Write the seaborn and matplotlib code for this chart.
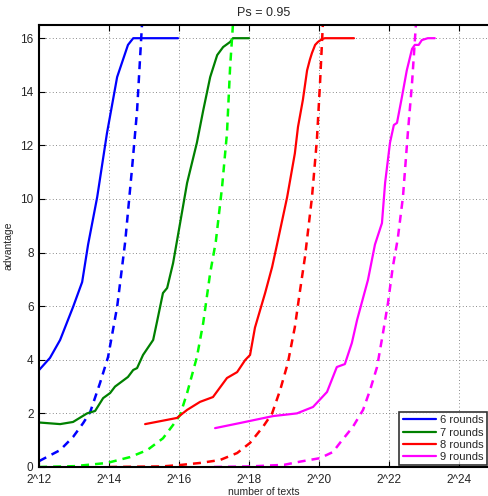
import numpy as np
import pandas as pd
import matplotlib
matplotlib.use("Agg")
import matplotlib.pyplot as plt
import seaborn as sns

# x values are log2(number of texts)
r6_x = [12.0, 12.31, 12.6, 12.97, 13.23, 13.4, 13.66, 13.94, 14.23, 14.54, 14.69, 15.97]
r6_y = [3.62, 4.07, 4.74, 5.97, 6.9, 8.3, 10.07, 12.46, 14.55, 15.75, 16.0, 16.0]
r6d_x = [12.0, 12.6, 12.97, 13.26, 13.46, 13.74, 13.97, 14.23, 14.46, 14.66, 14.8, 14.94]
r6d_y = [0.22, 0.63, 1.12, 1.64, 2.05, 3.13, 4.1, 5.97, 8.4, 11.2, 13.3, 16.5]

r7_x = [12.0, 12.6, 12.97, 13.37, 13.6, 13.83, 14.03, 14.17, 14.54, 14.69, 14.8, 14.97,
        15.26, 15.37, 15.54, 15.66, 15.83, 16.03, 16.23, 16.51, 16.69, 16.89, 17.09,
        17.26, 17.46, 17.54, 18.0]
r7_y = [1.66, 1.6, 1.68, 2.0, 2.09, 2.57, 2.76, 3.0, 3.36, 3.62, 3.69, 4.18,
        4.74, 5.42, 6.49, 6.68, 7.61, 9.1, 10.6, 12.1, 13.3, 14.55, 15.37,
        15.67, 15.86, 16.0, 16.0]
r7d_x = [12.0, 13.0, 13.94, 14.6, 15.09, 15.54, 15.83, 16.03, 16.23, 16.51, 16.69,
         16.89, 17.05, 17.23, 17.37, 17.46, 17.54]
r7d_y = [0.0, 0.03, 0.15, 0.37, 0.63, 1.07, 1.57, 1.94, 2.76, 4.1, 5.37,
         7.24, 8.4, 10.45, 12.46, 14.93, 16.5]

r8_x = [15.03, 15.94, 16.23, 16.6, 16.97, 17.37, 17.66, 17.89, 18.03, 18.17, 18.46,
        18.66, 18.8, 19.09, 19.31, 19.4, 19.54, 19.66, 19.74, 19.8, 19.89, 19.97,
        20.09, 20.17, 21.0]
r8_y = [1.6, 1.83, 2.13, 2.43, 2.61, 3.32, 3.54, 3.99, 4.18, 5.2, 6.49,
        7.46, 8.3, 10.07, 11.7, 12.69, 13.7, 14.8, 15.2, 15.45, 15.75, 15.86,
        15.97, 16.0, 16.0]
r8d_x = [14.0, 15.5, 16.0, 16.6, 17.17, 17.66, 18.03, 18.4, 18.66, 18.89, 19.11,
         19.31, 19.46, 19.6, 19.8, 19.94, 20.03, 20.11]
r8d_y = [0.0, 0.02, 0.07, 0.15, 0.26, 0.52, 0.9, 1.5, 2.0, 2.87, 3.88,
         5.22, 6.6, 7.84, 10.07, 12.2, 14.33, 16.5]

r9_x = [17.03, 17.74, 18.69, 19.37, 19.83, 20.23, 20.51, 20.74, 20.94, 21.09, 21.4,
        21.6, 21.8, 21.89, 22.03, 22.14, 22.23, 22.37, 22.51, 22.66, 22.74, 22.85,
        22.94, 23.11, 23.31]
r9_y = [1.45, 1.64, 1.9, 2.0, 2.24, 2.8, 3.73, 3.84, 4.63, 5.49, 6.98,
        8.3, 9.1, 10.6, 12.1, 12.76, 12.84, 13.8, 14.8, 15.6, 15.75, 15.75,
        15.93, 16.0, 16.0]
r9d_x = [17.0, 18.0, 19.0, 19.46, 20.03, 20.4, 20.6, 20.97, 21.26, 21.46, 21.66,
         21.83, 21.97, 22.11, 22.25, 22.4, 22.54, 22.66, 22.77]
r9d_y = [0.0, 0.02, 0.08, 0.2, 0.33, 0.56, 0.9, 1.5, 2.13, 2.87, 3.73,
         5.0, 6.1, 7.46, 8.5, 10.07, 12.46, 14.33, 16.5]

labels = ["6 rounds", "7 rounds", "8 rounds", "9 rounds"]
solid_colors = ["#0000ff", "#008000", "#ff0000", "#ff00ff"]
dash_colors = ["#0000ff", "#00ff00", "#ff0000", "#ff00ff"]

solid = [(r6_x, r6_y), (r7_x, r7_y), (r8_x, r8_y), (r9_x, r9_y)]
dashed = [(r6d_x, r6d_y), (r7d_x, r7d_y), (r8d_x, r8d_y), (r9d_x, r9d_y)]

sns.set_style("white")
plt.rcParams['font.family'] = ['Liberation Sans', 'DejaVu Sans']

fig = plt.figure(figsize=(4.89, 4.96), dpi=100)
ax = fig.add_axes([0.08, 0.0585, 0.92, 0.8915])

for (sx, sy), (dx, dy), lab, sc, dc in zip(solid, dashed, labels, solid_colors, dash_colors):
    df = pd.DataFrame({"texts": np.power(2.0, sx), "advantage": sy})
    sns.lineplot(data=df, x="texts", y="advantage", ax=ax, color=sc, linewidth=1.6,
                 label=lab, sort=False)
    dfd = pd.DataFrame({"texts": np.power(2.0, dx), "advantage": dy})
    sns.lineplot(data=dfd, x="texts", y="advantage", ax=ax, color=dc, linewidth=1.8,
                 linestyle=(0, (3.2, 2.4)), sort=False, label="_nolegend_")

ax.set_xscale("log", base=2)
ax.set_xlim(2 ** 12, 2 ** 24.86)
ax.set_ylim(0, 16.5)
xt = [12, 14, 16, 18, 20, 22, 24]
ax.set_xticks([2.0 ** e for e in xt])
ax.set_xticklabels(["2^%d" % e for e in xt])
ax.set_xticks([], minor=True)
ax.set_yticks(range(0, 17, 2))
ax.grid(True, linestyle=(0, (1, 3)), color="#666666", linewidth=0.6)
ax.tick_params(direction="in", length=4, labelsize=8.5, top=True, right=False,
               bottom=True, left=True, color="black")
ax.tick_params(axis="x", pad=5)
ax.tick_params(axis="y", pad=4)

for s in ["top", "bottom", "left"]:
    ax.spines[s].set_color("black")
    ax.spines[s].set_linewidth(1.5)
ax.spines["right"].set_visible(False)

ax.set_xlabel("number of texts", fontsize=7.5, labelpad=1)
ax.set_ylabel("advantage", fontsize=7.5, labelpad=5)
ax.set_title("Ps = 0.95", fontsize=9, pad=6)

leg = ax.legend(loc="lower right", fontsize=8, frameon=True, fancybox=False,
                borderpad=0.3, labelspacing=0.2, handlelength=3.0, handletextpad=0.4,
                borderaxespad=0.15)
leg.get_frame().set_edgecolor("black")
leg.get_frame().set_linewidth(1.2)

fig.savefig("out.png", dpi=100)
